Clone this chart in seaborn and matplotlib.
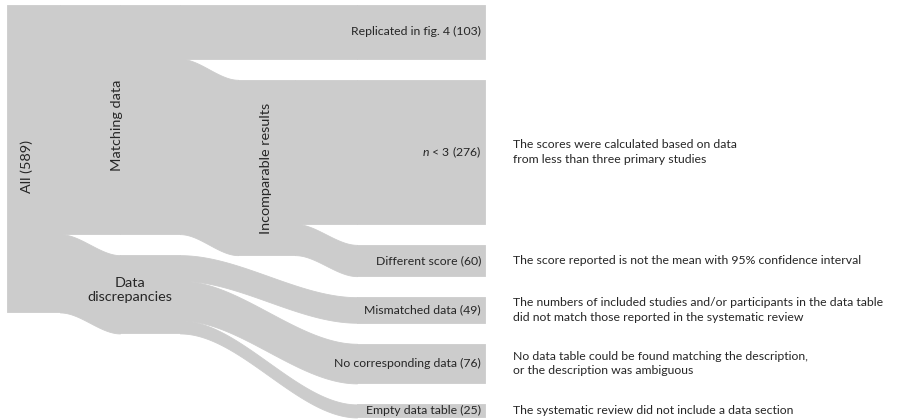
import numpy as np
import matplotlib
matplotlib.use("Agg")
import matplotlib.pyplot as plt
import seaborn as sns

# ---------------- data ----------------
node_names = ["All", "Matching data", "Data discrepancies", "Incomparable results",
              "Replicated in fig. 4", "n < 3", "Different score", "Mismatched data",
              "No corresponding data", "Empty data table"]
link_sources = ["All", "All", "Matching data", "Matching data",
                "Incomparable results", "Incomparable results",
                "Data discrepancies", "Data discrepancies", "Data discrepancies"]
link_targets = ["Matching data", "Data discrepancies", "Replicated in fig. 4",
                "Incomparable results", "n < 3", "Different score",
                "Mismatched data", "No corresponding data", "Empty data table"]
link_values = [439, 150, 103, 336, 276, 60, 49, 76, 25]

leaf_names = ["Replicated in fig. 4", "n < 3", "Different score", "Mismatched data",
              "No corresponding data", "Empty data table"]
leaf_notes = ["",
              "The scores were calculated based on data\nfrom less than three primary studies",
              "The score reported is not the mean with 95% confidence interval",
              "The numbers of included studies and/or participants in the data table\ndid not match those reported in the systematic review",
              "No data table could be found matching the description,\nor the description was ambiguous",
              "The systematic review did not include a data section"]

# ---------------- style / layout ----------------
sns.set_theme(style="white")
plt.rcParams['font.family'] = ['Lato', 'DejaVu Sans']
plt.rcParams['mathtext.fontset'] = 'custom'
plt.rcParams['mathtext.rm'] = 'Lato'
plt.rcParams['mathtext.it'] = 'Lato:italic'

GRAY = "#cccccc"
TXT = "#262626"
W, H = 898, 419
TOP = 5.0          # px
SCALE = 0.522      # px per unit
GAP = 21.0         # px between stacked nodes
SMALL = 8.85
BIG = 10.4
# column extents in px (left, right)
col_x = [(7, 60), (120, 180), (238, 295), (357, 485)]
# stacking order per column; "~" marks a pass-through slot of a long link
columns = [["All"],
           ["Matching data", "Data discrepancies"],
           ["~Replicated in fig. 4", "Incomparable results"],
           leaf_names]

val_in = {n: 0 for n in node_names}
val_out = {n: 0 for n in node_names}
for s, t, v in zip(link_sources, link_targets, link_values):
    val_out[s] += v
    val_in[t] += v
node_val = {n: max(val_in[n], val_out[n]) for n in node_names}

node_pos = {}   # name -> (col, ytop, ybot)
for ci, names in enumerate(columns):
    y = TOP
    for n in names:
        v = node_val[n.lstrip("~")]
        h = v * SCALE
        if not n.startswith("~"):
            node_pos[n] = (ci, y, y + h)
        y += h + GAP

fig = plt.figure(figsize=(W / 100, H / 100), dpi=100)
ax = fig.add_axes([0, 0, 1, 1])
ax.set_xlim(0, W)
ax.set_ylim(H, 0)
ax.axis("off")

# nodes
for n, (ci, y0, y1) in node_pos.items():
    x0, x1 = col_x[ci]
    ax.fill_between([x0, x1], [y0, y0], [y1, y1], color=GRAY, lw=0.6, ec=GRAY)

# links
out_off = {n: node_pos[n][1] for n in node_pos}
in_off = {n: node_pos[n][1] for n in node_pos}
for s, t, v in zip(link_sources, link_targets, link_values):
    h = v * SCALE
    sa = out_off[s]; out_off[s] += h
    ta = in_off[t]; in_off[t] += h
    x0 = col_x[node_pos[s][0]][1]
    x1 = col_x[node_pos[t][0]][0]
    xs = np.linspace(x0, x1, 200)
    tt = (xs - x0) / (x1 - x0)
    ss = 3 * tt ** 2 - 2 * tt ** 3
    top = sa + (ta - sa) * ss
    bot = top + h
    ax.fill_between(xs, top, bot, color=GRAY, lw=0.6, ec=GRAY)

# leaf labels and notes
for n, note in zip(leaf_names, leaf_notes):
    ci, y0, y1 = node_pos[n]
    yc = (y0 + y1) / 2
    lab = n.replace("n <", "$n$ <") + f" ({node_val[n]})"
    ax.text(col_x[ci][1] - 4, yc, lab, ha="right", va="center",
            fontsize=SMALL, color=TXT)
    if note:
        ax.text(513, yc, note, ha="left", va="center", fontsize=SMALL,
                color=TXT, linespacing=1.4)

# inner labels
ax.text(27, 166, f"All ({node_val['All']})", rotation=90, ha="center",
        va="center", fontsize=BIG, color=TXT)
ax.text(117, 125, "Matching data", rotation=90, ha="center", va="center",
        fontsize=BIG, color=TXT)
ax.text(266, 168, "Incomparable results", rotation=90, ha="center",
        va="center", fontsize=BIG, color=TXT)
ax.text(130, 290, "Data\ndiscrepancies", ha="center", va="center",
        fontsize=BIG, color=TXT, linespacing=1.25)

fig.savefig("out.png", dpi=100, facecolor="white")
